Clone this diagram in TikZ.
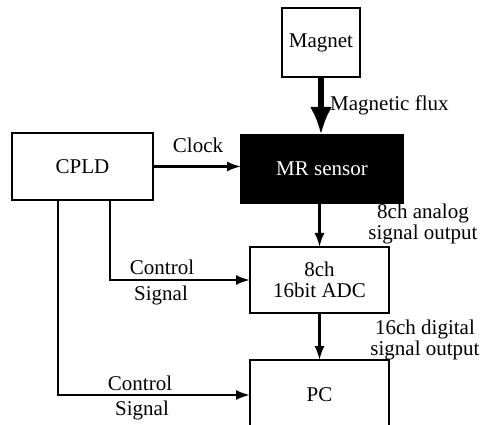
\documentclass[tikz,border=0pt]{standalone}
\usepackage{fontspec}
\setmainfont{Liberation Serif}
\usetikzlibrary{arrows.meta}
\begin{document}
\begin{tikzpicture}[x=1pt,y=1pt,
  every node/.style={font=\fontsize{21}{21}\selectfont},
  blockbox/.style={draw,line width=2.2pt,inner sep=0pt,outer sep=0pt,align=center},
  conn/.style={line width=2.2pt,-{Latex[length=14pt,width=10pt]}},
  thickconn/.style={line width=6pt,-{Latex[length=28pt,width=22pt]}},
  lbl/.style={inner sep=0pt,align=center}]
\useasboundingbox (0,0) rectangle (480,-425);
\node[blockbox,minimum width=78pt,minimum height=69pt] (mag) at (321,-42.5) {Magnet};
\node[blockbox,fill=black,text=white,minimum width=162pt,minimum height=68pt] (sen) at (322,-169) {MR sensor};
\node[blockbox,minimum width=141pt,minimum height=67pt] (cpld) at (82.5,-166.5) {CPLD};
\node[blockbox,minimum width=139pt,minimum height=66pt] (adc) at (319.5,-280) {8ch\\16bit ADC};
\node[blockbox,minimum width=139pt,minimum height=70pt] (pc) at (319.5,-395) {PC};
\draw[thickconn] (mag.south) -- (mag.south |- sen.north);
\draw[conn] (sen.south -| adc.north) -- (adc.north);
\draw[conn] (adc.south) -- (pc.north);
\draw[conn] (cpld.east) -- (cpld.east -| sen.west);
\draw[conn] ([xshift=98pt]cpld.south west) |- (adc.west);
\draw[conn] ([xshift=46pt]cpld.south west) |- (pc.west);
\node[lbl,anchor=west] (lflux) at (330,-105) {Magnetic flux};
\node[lbl] (lclock) at (198,-145) {Clock};
\node[lbl] (lana) at (423,-224) {8ch analog\\signal output};
\node[lbl] (ldig) at (425,-340) {16ch digital\\signal output};
\node[lbl] (lc1) at (162,-267) {Control};
\node[lbl] (ls1) at (161,-295) {Signal};
\node[lbl] (lc2) at (140,-383) {Control};
\node[lbl] (ls2) at (142,-410) {Signal};
\end{tikzpicture}
\end{document}
